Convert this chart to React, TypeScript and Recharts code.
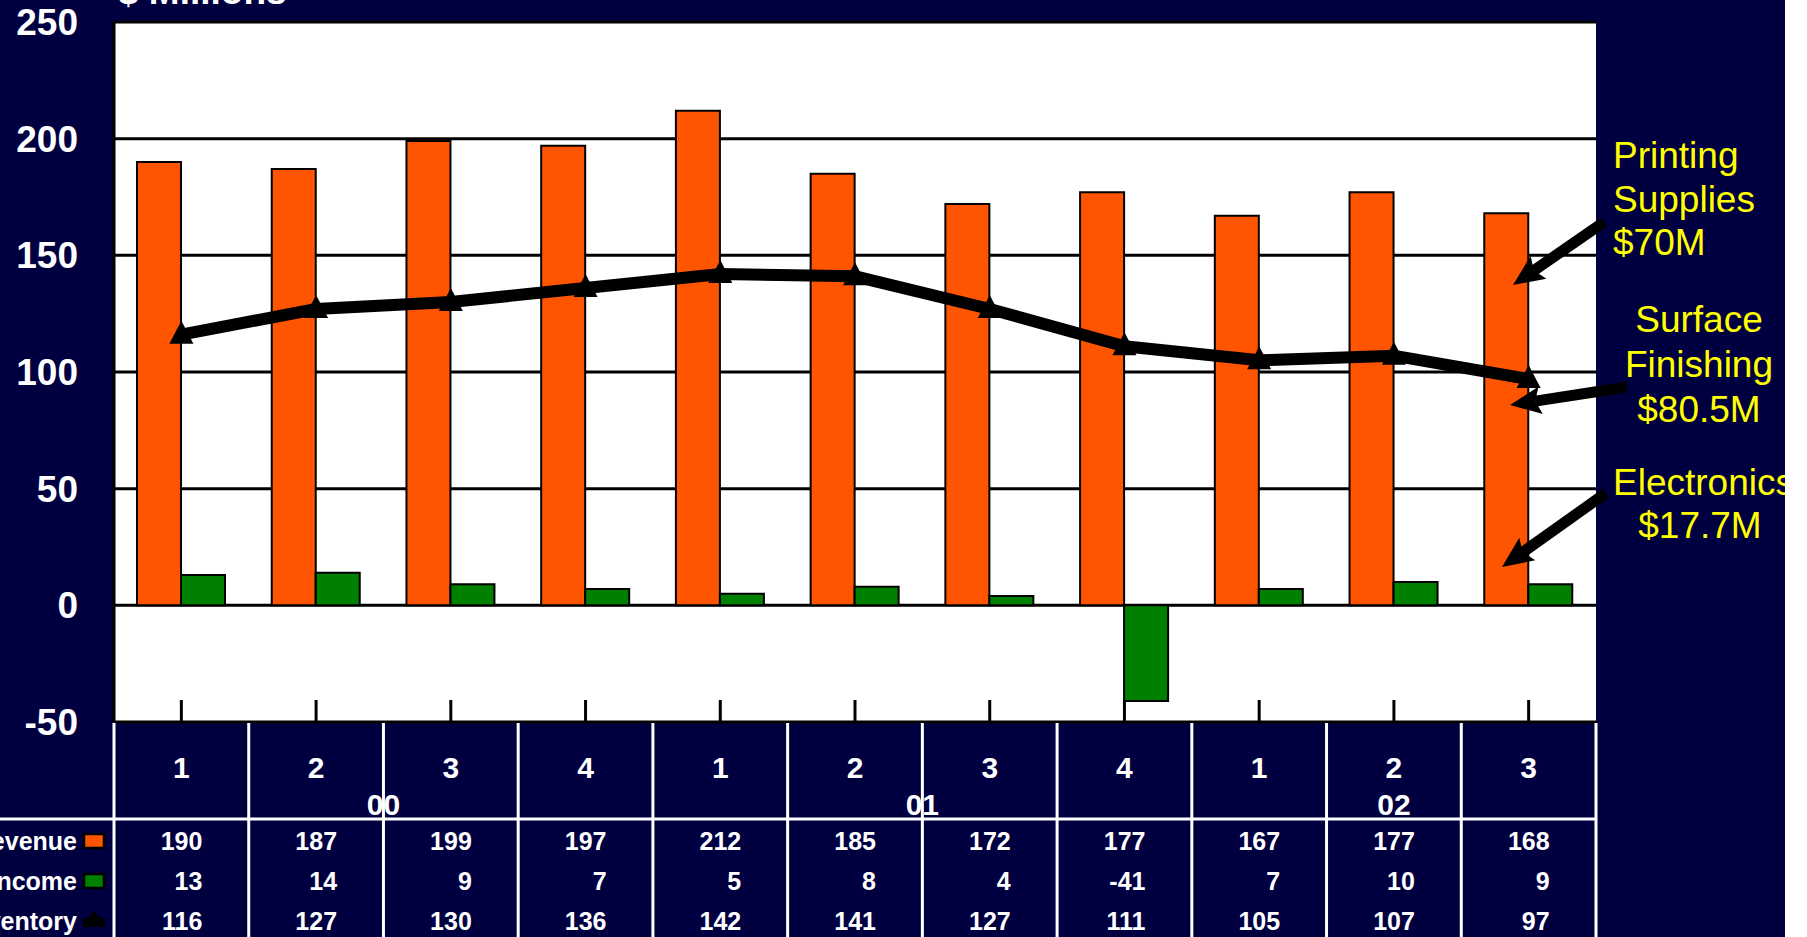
import React from "react"
import { ComposedChart, Bar, Line, XAxis, YAxis, CartesianGrid } from "recharts"

const quarters = ["1", "2", "3", "4", "1", "2", "3", "4", "1", "2", "3"]
const years = ["00", "00", "00", "00", "01", "01", "01", "01", "02", "02", "02"]
const revenue = [190, 187, 199, 197, 212, 185, 172, 177, 167, 177, 168]
const income = [13, 14, 9, 7, 5, 8, 4, -41, 7, 10, 9]
const inventory = [116, 127, 130, 136, 142, 141, 127, 111, 105, 107, 97]
const yTicks = [-50, 0, 50, 100, 150, 200, 250]
const seriesNames = ["Revenue", "Income", "Inventory"]

const NAVY = "#000040"
const ORANGE = "#FF5500"
const GREEN = "#008000"
const YELLOW = "#FFFF00"
const FONT = "'Liberation Sans', Arial, sans-serif"

const W = 1807
const H = 937
const M_LEFT = 114
const M_RIGHT = 211
const PLOT_W = W - M_LEFT - M_RIGHT
const COL_W = PLOT_W / quarters.length

const data = quarters.map((q, i) => ({
  name: `${q}-${years[i]}`,
  quarter: q,
  year: years[i],
  revenue: revenue[i],
  income: income[i],
  inventory: inventory[i],
}))

// first index + size of each year group, for the centred year label
const yearGroups: { label: string; start: number; count: number }[] = []
years.forEach((y, i) => {
  const last = yearGroups[yearGroups.length - 1]
  if (last && last.label === y) last.count++
  else yearGroups.push({ label: y, start: i, count: 1 })
})

const YTick = (props: any) => {
  const { x, y, payload } = props
  return (
    <text x={x - 36} y={y + 13} textAnchor="end" fill="#fff" fontSize={37} fontWeight="bold" fontFamily={FONT}>
      {payload.value}
    </text>
  )
}

const Triangle = (props: any) => {
  const { cx, cy, index } = props
  if (cx == null || cy == null) return null
  return <polygon key={index} points={`${cx},${cy - 14} ${cx - 12},${cy + 9} ${cx + 12},${cy + 9}`} fill="#000" />
}

const TableTick = (props: any) => {
  const { x, y, index } = props
  const top = y
  const left = x - COL_W / 2
  const rows = [revenue[index], income[index], inventory[index]]
  const group = yearGroups.find((g) => g.start === index)
  const isLast = index === quarters.length - 1
  return (
    <g fontFamily={FONT} fontWeight="bold" fill="#fff">
      {/* inner tick mark at the bottom of the plot */}
      <line x1={x} x2={x} y1={top - 22} y2={top} stroke="#000" strokeWidth={3} />
      <line x1={left} x2={left} y1={top + 1} y2={H} stroke="#fff" strokeWidth={3} />
      {isLast && <line x1={left + COL_W} x2={left + COL_W} y1={top + 1} y2={H} stroke="#fff" strokeWidth={3} />}
      <line x1={index === 0 ? 0 : left} x2={left + COL_W} y1={top + 97} y2={top + 97} stroke="#fff" strokeWidth={3} />
      <text x={x} y={top + 56} textAnchor="middle" fontSize={30}>{quarters[index]}</text>
      {group && (
        <text x={x + ((group.count - 1) / 2) * COL_W} y={top + 93} textAnchor="middle" fontSize={30}>
          {group.label}
        </text>
      )}
      {rows.map((v, r) => (
        <text key={r} x={x + 21} y={top + 128 + r * 40} textAnchor="end" fontSize={25}>{v}</text>
      ))}
      {index === 0 && (
        <g>
          {seriesNames.map((s, r) => (
            <text key={s} x={77} y={top + 128 + r * 40} textAnchor="end" fontSize={25}>{s}</text>
          ))}
          <rect x={84} y={top + 112} width={20} height={14} fill={ORANGE} stroke="#000" strokeWidth={2.5} />
          <rect x={84} y={top + 152} width={20} height={14} fill={GREEN} stroke="#000" strokeWidth={2.5} />
          <rect x={83} y={top + 196} width={22} height={9} fill="#000" />
          <polygon points={`${94},${top + 189} ${87},${top + 198} ${101},${top + 198}`} fill="#000" />
        </g>
      )}
    </g>
  )
}

const Arrow = ({ x1, y1, x2, y2 }: { x1: number; y1: number; x2: number; y2: number }) => {
  const a = Math.atan2(y2 - y1, x2 - x1)
  const len = 34
  const spread = 0.42
  const bx = x2 - Math.cos(a) * len * 0.75
  const by = y2 - Math.sin(a) * len * 0.75
  const p1 = [x2 - Math.cos(a - spread) * len, y2 - Math.sin(a - spread) * len]
  const p2 = [x2 - Math.cos(a + spread) * len, y2 - Math.sin(a + spread) * len]
  return (
    <g>
      <line x1={x1} y1={y1} x2={bx} y2={by} stroke="#000" strokeWidth={11} />
      <polygon points={`${x2},${y2} ${p1[0]},${p1[1]} ${bx},${by} ${p2[0]},${p2[1]}`} fill="#000" />
    </g>
  )
}

export default function App() {
  return (
    <div style={{ position: "absolute", left: 0, top: 0, width: W, height: H, background: "#fff", overflow: "hidden" }}>
      <div style={{ position: "absolute", left: 0, top: 0, width: 1785, height: H, background: NAVY, overflow: "hidden" }}>
        <ComposedChart
          width={W}
          height={H}
          data={data}
          margin={{ top: 22, right: M_RIGHT, bottom: 0, left: 0 }}
          barGap={0}
          barCategoryGap={23}
        >
          <CartesianGrid vertical={false} stroke="#000" strokeWidth={3} fill="#fff" fillOpacity={1} />
          <XAxis
            dataKey="name"
            height={H - 722}
            interval={0}
            tickLine={false}
            axisLine={false}
            tickSize={0}
            tickMargin={0}
            tick={<TableTick />}
          />
          <YAxis
            width={M_LEFT}
            domain={[-50, 250]}
            ticks={yTicks}
            interval={0}
            tickLine={false}
            tickSize={0}
            tickMargin={0}
            axisLine={{ stroke: "#000", strokeWidth: 3 }}
            tick={<YTick />}
          />
          <Bar dataKey="revenue" fill={ORANGE} stroke="#000" strokeWidth={2} isAnimationActive={false} />
          <Bar dataKey="income" fill={GREEN} stroke="#000" strokeWidth={2} isAnimationActive={false} />
          <Line
            type="linear"
            dataKey="inventory"
            stroke="#000"
            strokeWidth={12}
            dot={<Triangle />}
            activeDot={false}
            isAnimationActive={false}
          />
        </ComposedChart>
        <svg
          width={1785}
          height={H}
          style={{ position: "absolute", left: 0, top: 0, pointerEvents: "none" }}
          fontFamily={FONT}
        >
          <text x={118} y={4} fill="#fff" fontSize={37} fontWeight="bold">$ Millions</text>
          <g fill={YELLOW} fontSize={37}>
            <text x={1613} y={168}>Printing</text>
            <text x={1613} y={212}>Supplies</text>
            <text x={1613} y={255}>$70M</text>
            <text x={1699} y={332} textAnchor="middle">Surface</text>
            <text x={1699} y={377} textAnchor="middle">Finishing</text>
            <text x={1699} y={422} textAnchor="middle">$80.5M</text>
            <text x={1613} y={495}>Electronics</text>
            <text x={1700} y={538} textAnchor="middle">$17.7M</text>
          </g>
          <Arrow x1={1604} y1={222} x2={1513} y2={285} />
          <Arrow x1={1627} y1={387} x2={1510} y2={405} />
          <Arrow x1={1606} y1={493} x2={1502} y2={567} />
        </svg>
      </div>
    </div>
  )
}
